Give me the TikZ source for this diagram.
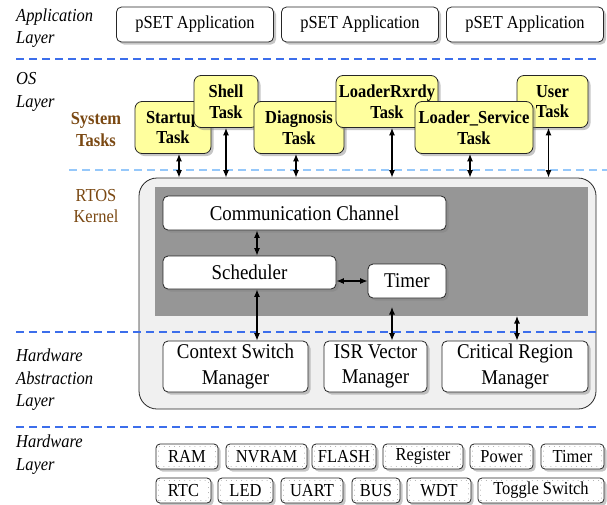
\documentclass[tikz,border=0pt]{standalone}
\usepackage{fontspec}
\setmainfont[FakeStretch=0.9]{Liberation Serif}
\usetikzlibrary{arrows.meta}
\usetikzlibrary{shadows}

\definecolor{taskyellow}{RGB}{255,255,158}
\definecolor{taskbrown}{RGB}{122,72,18}
\definecolor{layerblue}{RGB}{60,110,235}
\definecolor{lightblue}{RGB}{150,200,250}
\definecolor{kernelgray}{RGB}{240,240,240}
\definecolor{panelgray}{RGB}{150,150,150}

\tikzset{
  box/.style={draw=black!85, line width=0.8pt, fill=white, rounded corners=5pt,
    inner sep=0pt, align=center,
    drop shadow={shadow xshift=2.5pt, shadow yshift=-2.5pt, opacity=.45}},
  appbox/.style={box, minimum width=157pt, minimum height=35pt,
    font=\fontsize{18.3}{20}\selectfont},
  taskbox/.style={box, fill=taskyellow, minimum height=52pt, rounded corners=7pt,
    font=\fontsize{18.3}{20.5}\selectfont\bfseries},
  kbox/.style={box, minimum height=34pt, font=\fontsize{21}{25.5}\selectfont},
  hwbox/.style={box, rounded corners=4pt, minimum height=25pt,
    font=\fontsize{18.3}{20}\selectfont},
  hwdots/.style={gray!70, line width=0.8pt, dash pattern=on 0.1pt off 5pt, line cap=round},
  layer/.style={anchor=west, align=left, inner sep=0pt,
    font=\fontsize{18.3}{22.5}\selectfont\itshape},
  tasklabel/.style={align=center, inner sep=0pt, text=taskbrown,
    font=\fontsize{18.3}{21.5}\selectfont},
  link/.style={{Latex[length=7.5pt,width=6pt]}-{Latex[length=7.5pt,width=6pt]}, line width=1.1pt},
  sep/.style={draw=layerblue, line width=1.4pt, dash pattern=on 8pt off 5pt},
}

\begin{document}
\begin{tikzpicture}[x=1pt, y=-1pt]
  \useasboundingbox (0,0) rectangle (607,504);

  \node[layer] (applbl) at (16,28) {Application\\Layer};
  \foreach \i/\x in {1/195, 2/360, 3/525}
    \node[appbox] (app\i) at (\x,24.5) {pSET Application};
  \draw[sep] (16,59) -- (597,59);

  \node[layer] (oslbl) at (16,92) {OS\\Layer};
  \node[tasklabel, font=\fontsize{18.3}{21.5}\selectfont\bfseries] (syslbl) at (96,129.5) {System\\Tasks};
  \node[taskbox, minimum width=76pt] (startup) at (173,127.5) {Startup\\Task};
  \node[taskbox, minimum width=64pt] (shell) at (226,101.5) {Shell\\Task};
  \node[taskbox, minimum width=90pt] (diag) at (299,127.5) {Diagnosis\\Task};
  \node[taskbox, minimum width=102pt] (rxrdy) at (387,101.5) {LoaderRxrdy\\Task};
  \node[taskbox, minimum width=71pt] (user) at (552.5,101.5) {User\\Task};
  \node[taskbox, minimum width=118pt] (service) at (474,127.5) {Loader\_Service\\Task};
  \draw[draw=lightblue, line width=1.4pt, dash pattern=on 8pt off 5pt] (69,170) -- (607,170);

  \node[tasklabel] (rtoslbl) at (96,206) {RTOS\\Kernel};
  \node[draw=black!85, line width=0.8pt, fill=kernelgray, rounded corners=18pt,
    minimum width=457pt, minimum height=231pt] (kernel) at (367.5,293.5) {};
  \node[fill=panelgray, inner sep=0pt, minimum width=433pt, minimum height=129pt] (panel) at (371.5,251.5) {};
  \node[kbox, minimum width=283pt] (comm) at (304.5,213) {Communication Channel};
  \node[kbox, minimum width=173pt, minimum height=33pt] (sched) at (249.5,272.5) {Scheduler};
  \node[kbox, minimum width=78pt] (timer) at (407,281) {Timer};

  \foreach \t/\dx in {startup/6, shell/0, diag/-3, rxrdy/5, service/-4, user/-4}
    \draw[link] ([xshift=\dx pt]\t.south) -- ([xshift=\dx pt]\t.south |- kernel.north);

  \draw[sep] (16,332) -- (597,332);
  \node[layer] (hallbl) at (16,380) {Hardware\\Abstraction\\Layer};
  \node[kbox, minimum width=145pt, minimum height=51pt] (ctx) at (235.5,366.5) {Context Switch\\Manager};
  \node[kbox, minimum width=103pt, minimum height=51pt] (isr) at (375.5,366.5) {ISR Vector\\Manager};
  \node[kbox, minimum width=146pt, minimum height=51pt] (crit) at (515,366.5) {Critical Region\\Manager};
  \coordinate (isrend) at (392,307);
  \coordinate (critend) at (517,316);

  \draw[link] ([xshift=7.5pt]sched.north) -- ([xshift=7.5pt]sched.north |- comm.south);
  \draw[link] (sched.east |- timer) -- (timer.west);
  \draw[link] ([xshift=7.5pt]sched.south) -- ([xshift=7.5pt]sched.south |- ctx.north);
  \draw[link] (isrend) -- (isrend |- isr.north);
  \draw[link] (critend) -- (critend |- crit.north);

  \draw[sep] (16,427) -- (597,427);
  \node[layer] (hwlbl) at (16,454.5) {Hardware\\Layer};
  \foreach \n/\t/\x/\w in {ram/RAM/187/62, nvram/NVRAM/266.5/81, flash/FLASH/344/64,
      register/Register/423/80, power/Power/501.5/63, hwtimer/Timer/572.5/63}
    \node[hwbox, minimum width=\w pt] (\n) at (\x,456.5) {\t};
  \foreach \n/\t/\x/\w in {rtc/RTC/183.5/55, led/LED/245.5/55, uart/UART/312/62,
      bus/BUS/376/48, wdt/WDT/439/64, toggle/Toggle Switch/541/126}
    \node[hwbox, minimum width=\w pt] (\n) at (\x,490.5) {\t};
  \foreach \n in {ram,nvram,flash,register,power,hwtimer,rtc,led,uart,bus,wdt,toggle}
    \draw[hwdots] ([shift={(3pt,3pt)}]\n.south west) rectangle ([shift={(-3pt,-3pt)}]\n.north east);
\end{tikzpicture}
\end{document}
